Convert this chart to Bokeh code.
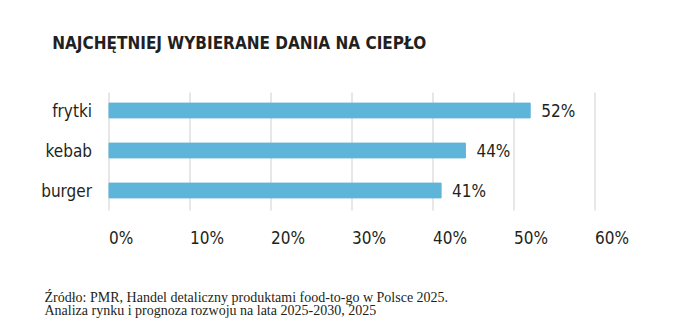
from bokeh.plotting import figure
from bokeh.models import Range1d, ColumnDataSource
from bokeh.core.properties import value
from bokeh.embed import file_html
from bokeh.resources import INLINE

categories = ["frytki", "kebab", "burger"]
values = [52, 44, 41]
value_labels = ["52%", "44%", "41%"]
tick_values = [0, 10, 20, 30, 40, 50, 60]
tick_labels = ["0%", "10%", "20%", "30%", "40%", "50%", "60%"]
title_text = "NAJCHĘTNIEJ WYBIERANE DANIA NA CIEPŁO"
source_lines = [
    "Źródło: PMR, Handel detaliczny produktami food-to-go w Polsce 2025.",
    "Analiza rynku i prognoza rozwoju na lata 2025-2030, 2025",
]

COND = "DejaVu Sans Condensed"
TXT = "#231f20"
BAR = "#5eb5d9"
GRID = "#cfcfcf"

W, H = 677, 327
X0, PX_PER_UNIT = 108.5, 8.1      # pixel of 0 %, pixels per percent
Y0, ROW = 110.0, 40.0              # pixel centre of first row, pixels per row

rows = list(range(len(categories)))
src = ColumnDataSource(dict(row=rows, cat=categories, val=values, lab=value_labels))

p = figure(width=W, height=H,
           x_range=Range1d(-X0 / PX_PER_UNIT, (W - X0) / PX_PER_UNIT),
           y_range=Range1d((H - Y0) / ROW, -Y0 / ROW),
           x_axis_location=None, y_axis_location=None,
           output_backend="svg", toolbar_location=None,
           min_border=0, min_border_left=0, min_border_right=0,
           min_border_top=0, min_border_bottom=0)
p.outline_line_color = None
p.grid.visible = False

top_edge = -0.5
bottom_edge = len(categories) - 0.5

# grid lines
p.segment(x0=tick_values, x1=tick_values, y0=[top_edge + 0.05] * len(tick_values),
          y1=[bottom_edge] * len(tick_values), line_color=GRID, line_width=1)

# bars
p.hbar(y="row", right="val", left=0, height=0.37, color=BAR, source=src)

# value labels
p.text(x="val", y="row", text="lab", source=src, x_offset=11, text_baseline="middle",
       text_align="left", text_font=value(COND), text_font_size="17px", text_color=TXT)

# category labels
p.text(x=[0] * len(categories), y=rows, text=categories, x_offset=-17,
       text_baseline="middle", text_align="right", text_font=value(COND),
       text_font_size="17px", text_color=TXT)

# x tick labels
p.text(x=tick_values, y=[bottom_edge] * len(tick_values), text=tick_labels, y_offset=27,
       text_baseline="alphabetic", text_align="left", text_font=value(COND),
       text_font_size="17px", text_color=TXT)

# title
p.text(x=[0], y=[top_edge], text=[title_text], x_offset=-56.8, y_offset=-47.7,
       text_baseline="alphabetic", text_align="left", text_font=value(COND),
       text_font_style="bold", text_font_size="17px", text_color=TXT)

# source
p.text(x=[0, 0], y=[bottom_edge, bottom_edge], text=source_lines, x_offset=-64.5,
       y_offset=[86.7, 99.5], text_baseline="alphabetic", text_align="left",
       text_font=value("Liberation Serif"), text_font_size="14px", text_color=TXT)

open("out.html", "w").write(file_html(p, INLINE))
